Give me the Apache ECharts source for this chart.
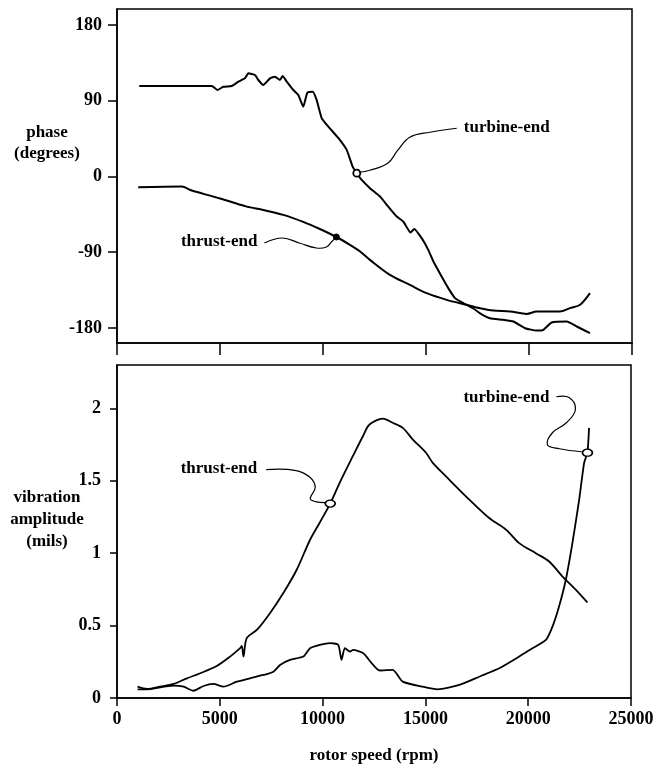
<!DOCTYPE html>
<html><head><meta charset="utf-8">
<script src="https://cdn.jsdelivr.net/npm/echarts@6/dist/echarts.min.js"></script>
<style>html,body{margin:0;padding:0;background:#fff}#c{width:653px;height:767px}</style>
</head><body><div id="c"></div>
<script>
// ---- tick labels ----
const xTicks = [0, 5000, 10000, 15000, 20000, 25000];
const phaseTicks = [-180, -90, 0, 90, 180];
const ampTicks = [0, 0.5, 1, 1.5, 2];

// ---- phase (degrees) ----
const turbinePhaseRpm = [1080,4600,4870,5160,5570,5890,6210,6380,6700,6860,7100,7430,7670,7910,8040,8240,8560,8800,9040,9240,9500,9690,9940,10260,10750,11150,11440,11640,11880,12280,12770,13170,13580,13900,14250,14430,14790,15110,15360,15760,16080,16410,16810,17300,17700,18100,18750,19240,19810,20370,20700,21100,21830,22320,22960];
const turbinePhaseDeg = [107.5,107.5,102.7,106.5,107.5,112.6,116.6,122.6,120.6,114.6,108.7,116.6,118.6,114.6,119.4,112.6,102.7,96.8,82.9,99.5,100.7,90.9,69.1,59.2,45.4,31.5,11.6,3.8,-4.2,-14,-24,-35.9,-47.7,-53.7,-66.7,-62.4,-73.4,-87.3,-101.2,-119,-132.8,-144.7,-150.6,-157,-164,-168.5,-170.5,-172.5,-180.4,-183.2,-182.3,-173.7,-172.5,-178.4,-186.3];
const thrustPhaseRpm = [1030,3140,3630,4680,5490,6300,7100,8070,9040,9850,10650,11310,11800,12280,13250,14220,15030,16000,16970,17620,18270,19080,19890,20370,21500,21990,22480,22960];
const thrustPhaseDeg = [-12.9,-12.1,-16.8,-24,-29.9,-35.9,-39.8,-45.7,-54,-62.5,-72,-81.4,-89.3,-99.2,-117,-128.9,-138.8,-146.7,-152.6,-156.6,-159.4,-160.6,-163.4,-160.6,-160.6,-156.6,-152.6,-138.8];

// ---- vibration amplitude (mils) ----
const thrustAmpRpm = [1000,1460,2100,2750,3400,4050,4850,5500,5990,6070,6150,6310,6800,7440,8090,8740,9390,9850,10370,10830,11470,11960,12280,12930,13410,13900,14390,15030,15360,16000,16970,18100,18920,19560,20370,21020,21670,22320,22880];
const thrustAmpVal = [0.078,0.062,0.078,0.097,0.136,0.171,0.221,0.286,0.344,0.36,0.286,0.413,0.47,0.586,0.725,0.886,1.093,1.209,1.343,1.486,1.67,1.808,1.889,1.929,1.901,1.866,1.785,1.694,1.624,1.531,1.393,1.243,1.163,1.07,1.0,0.943,0.839,0.747,0.66];
const turbineAmpRpm = [1000,1620,2750,3240,3720,4210,4690,5180,5830,6470,7120,7610,7930,8410,9060,9390,9870,10360,10760,10920,11080,11330,11490,11980,12460,12770,13410,13900,14870,15600,16650,17620,18590,19560,20210,20860,21180,21500,21830,22150,22480,22720,22880,22960];
const turbineAmpVal = [0.06,0.062,0.085,0.078,0.05,0.083,0.097,0.078,0.113,0.136,0.159,0.182,0.228,0.263,0.286,0.344,0.367,0.379,0.367,0.263,0.344,0.321,0.332,0.309,0.228,0.19,0.194,0.113,0.078,0.06,0.09,0.147,0.205,0.286,0.344,0.401,0.493,0.632,0.817,1.07,1.37,1.624,1.694,1.866];

// ---- annotated points ----
const markTurbinePhase = [11640, 3.8];
const markThrustPhase = [10650, -72];
const markThrustAmp = [10370, 1.343];
const markTurbineAmp = [22880, 1.694];

const zip = (a, b) => a.map((v, i) => [v, b[i]]);
const FONT = '"Liberation Serif", "Times New Roman", serif';
const labelStyle = { color: '#000', fontFamily: FONT, fontSize: 17, fontWeight: 'bold' };
const tickStyle = { color: '#000', fontFamily: FONT, fontSize: 18, fontWeight: 'bold' };
const lineS = { color: '#000', width: 1.5 };
const plain = v => String(v);

const chart = echarts.init(document.getElementById('c'));
const option = {
  backgroundColor: '#fff',
  animation: false,
  grid: [
    { left: 117, top: 9, width: 515, height: 334, show: true, borderColor: '#000', borderWidth: 1.5, backgroundColor: 'transparent', containLabel: false, outerBoundsMode: 'none' },
    { left: 117, top: 365, width: 514, height: 333, show: true, borderColor: '#000', borderWidth: 1.5, backgroundColor: 'transparent', containLabel: false, outerBoundsMode: 'none' }
  ],
  xAxis: [
    { gridIndex: 0, type: 'value', min: 0, max: 25000, interval: 5000,
      axisLine: { onZero: false, lineStyle: lineS }, axisTick: { length: 12, lineStyle: lineS },
      axisLabel: { show: false }, splitLine: { show: false } },
    { gridIndex: 1, type: 'value', min: 0, max: 25000, interval: 5000,
      axisLine: { onZero: false, lineStyle: lineS }, axisTick: { length: 8, lineStyle: lineS },
      axisLabel: Object.assign({ margin: 12, customValues: xTicks, formatter: plain, hideOverlap: false }, tickStyle),
      splitLine: { show: false },
      name: 'rotor speed (rpm)', nameLocation: 'middle', nameGap: 49,
      nameTextStyle: labelStyle }
  ],
  yAxis: [
    { gridIndex: 0, type: 'value', min: -198, max: 199,
      axisLine: { onZero: false, lineStyle: lineS },
      axisTick: { length: 9, lineStyle: lineS, customValues: phaseTicks },
      axisLabel: Object.assign({ margin: 15, customValues: phaseTicks, formatter: plain }, tickStyle),
      splitLine: { show: false } },
    { gridIndex: 1, type: 'value', min: 0, max: 2.3,
      axisLine: { onZero: false, lineStyle: lineS },
      axisTick: { length: 7, lineStyle: lineS, customValues: ampTicks },
      axisLabel: Object.assign({ margin: 16, customValues: ampTicks, formatter: plain }, tickStyle),
      splitLine: { show: false } }
  ],
  series: [
    { type: 'line', xAxisIndex: 0, yAxisIndex: 0, data: zip(turbinePhaseRpm, turbinePhaseDeg), showSymbol: false, smooth: 0.15, lineStyle: { color: '#000', width: 2 } },
    { type: 'line', xAxisIndex: 0, yAxisIndex: 0, data: zip(thrustPhaseRpm, thrustPhaseDeg), showSymbol: false, smooth: 0.3, lineStyle: { color: '#000', width: 2 } },
    { type: 'line', xAxisIndex: 1, yAxisIndex: 1, data: zip(thrustAmpRpm, thrustAmpVal), showSymbol: false, smooth: 0.3, lineStyle: { color: '#000', width: 1.8 } },
    { type: 'line', xAxisIndex: 1, yAxisIndex: 1, data: zip(turbineAmpRpm, turbineAmpVal), showSymbol: false, smooth: 0.2, lineStyle: { color: '#000', width: 1.8 } },
    { type: 'scatter', xAxisIndex: 0, yAxisIndex: 0, data: [markTurbinePhase], symbol: 'circle', symbolSize: 7, z: 5, itemStyle: { color: '#fff', opacity: 1, borderColor: '#000', borderWidth: 1.8 } },
    { type: 'scatter', xAxisIndex: 0, yAxisIndex: 0, data: [markThrustPhase], symbol: 'circle', symbolSize: 6, z: 5, itemStyle: { color: '#000', opacity: 1, borderColor: '#000', borderWidth: 1 } },
    { type: 'scatter', xAxisIndex: 1, yAxisIndex: 1, data: [markThrustAmp, markTurbineAmp], symbol: 'circle', symbolSize: [10, 7], z: 5, itemStyle: { color: '#fff', opacity: 1, borderColor: '#000', borderWidth: 1.5 } }
  ]
};
chart.setOption(option);

// annotations anchored to the marked points
function px(grid, pt) { return chart.convertToPixel({ gridIndex: grid }, pt); }
function leader(p, offs) {
  return { type: 'polyline', z: 10, silent: true,
    shape: { points: offs.map(o => [p[0] + o[0], p[1] + o[1]]), smooth: 0.4 },
    style: { stroke: '#000', lineWidth: 1.2, fill: null } };
}
function label(p, dx, dy, text, align) {
  return { type: 'text', z: 10, silent: true, x: p[0] + dx, y: p[1] + dy,
    style: { text: text, fill: '#000', font: 'bold 17px ' + FONT, textAlign: align, textVerticalAlign: 'middle', verticalAlign: 'middle' } };
}
const pTP = px(0, markTurbinePhase);
const pHP = px(0, markThrustPhase);
const pHA = px(1, markThrustAmp);
const pTA = px(1, markTurbineAmp);
const graphics = [
  leader(pTP, [[100,-45],[73,-41],[53,-36],[41,-23],[31,-10],[13,-3],[2,-1]]),
  label(pTP, 107, -46, 'turbine-end', 'left'),
  leader(pHP, [[-72,6],[-54,1],[-37,6],[-20,11],[-10,10],[-5,5],[0,0]]),
  label(pHP, -79, 5, 'thrust-end', 'right'),
  leader(pHA, [[-64,-34],[-34,-33],[-20,-26],[-15,-16],[-20,-5],[-15,-2],[-4,-1]]),
  label(pHA, -73, -35, 'thrust-end', 'right'),
  leader(pTA, [[-31,-56],[-18,-55],[-12,-43],[-21,-30],[-35,-20],[-40,-8],[-28,-4],[-6,-1]]),
  label(pTA, -38, -55, 'turbine-end', 'right'),
  { type: 'text', x: 47, y: 143, style: { text: 'phase\n(degrees)', fill: '#000', font: 'bold 17px ' + FONT, textAlign: 'center', textVerticalAlign: 'middle', verticalAlign: 'middle', lineHeight: 21 } },
  { type: 'text', x: 47, y: 520, style: { text: 'vibration\namplitude\n(mils)', fill: '#000', font: 'bold 17px ' + FONT, textAlign: 'center', textVerticalAlign: 'middle', verticalAlign: 'middle', lineHeight: 22 } }
];
chart.setOption({ graphic: graphics });
</script>
</body></html>
